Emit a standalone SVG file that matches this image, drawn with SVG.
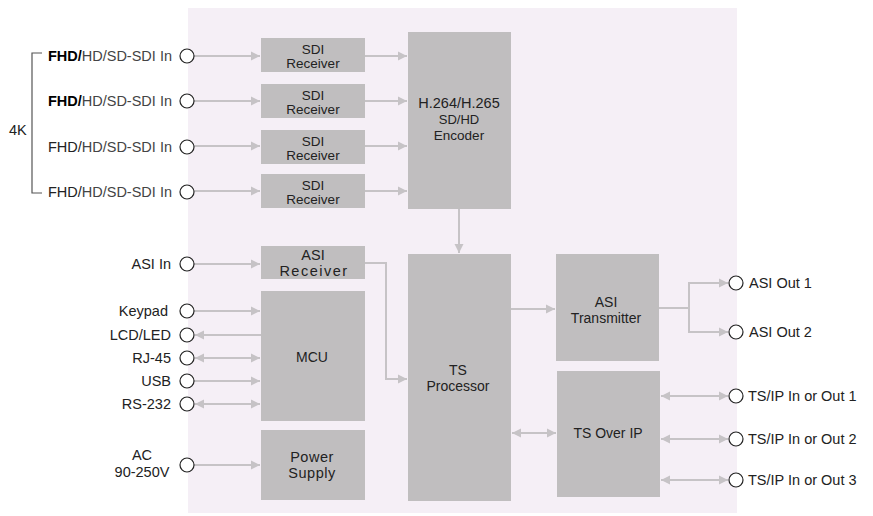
<svg xmlns="http://www.w3.org/2000/svg" width="873" height="516" viewBox="0 0 873 516">
<defs>
<marker id="ah" markerUnits="userSpaceOnUse" markerWidth="10" markerHeight="10" refX="9" refY="5" orient="auto-start-reverse" viewBox="0 0 10 10">
<path d="M0,0.5 L9,5 L0,9.5 Z" fill="#c6c3c6"/>
</marker>
<style>
.box{fill:#c0bebf}
.t{font-family:"Liberation Sans",Arial,sans-serif;font-size:14.5px;fill:#222}
.bt{font-size:14px}
.st{font-size:13.5px}
.tm{text-anchor:middle}
.te{text-anchor:end}
.ln{fill:none;stroke:#c6c3c6;stroke-width:2}
.a{marker-end:url(#ah)}
.b{marker-start:url(#ah);marker-end:url(#ah)}
.port{fill:#fff;stroke:#222;stroke-width:1.2}
.br{fill:none;stroke:#555;stroke-width:1.2}
</style>
</defs>
<rect x="188" y="8" width="549" height="505" fill="#f5eff6"/>

<g id="connectors">
<path class="ln a" d="M194,56 H260"/>
<path class="ln a" d="M194,101 H260"/>
<path class="ln a" d="M194,146 H260"/>
<path class="ln a" d="M194,191 H260"/>
<path class="ln a" d="M365,56 H407"/>
<path class="ln a" d="M365,101 H407"/>
<path class="ln a" d="M365,146 H407"/>
<path class="ln a" d="M365,191 H407"/>
<path class="ln a" d="M459,209 V253"/>
<path class="ln a" d="M194,264 H260"/>
<path class="ln a" d="M365,263 H386 V379 H407"/>
<path class="ln a" d="M194,311 H260"/>
<path class="ln a" d="M261,335 H195"/>
<path class="ln b" d="M195,358 H260"/>
<path class="ln a" d="M194,381 H260"/>
<path class="ln b" d="M195,404 H260"/>
<path class="ln a" d="M194,465 H260"/>
<path class="ln a" d="M511,309 H555"/>
<path class="ln b" d="M512,433 H556"/>
<path class="ln" d="M659,308 H689"/>
<path class="ln a" d="M689,308 V283 H728"/>
<path class="ln a" d="M689,308 V332 H728"/>
<path class="ln b" d="M661,396 H728"/>
<path class="ln b" d="M661,439 H728"/>
<path class="ln b" d="M661,480 H728"/>
</g>

<g id="bracket-4k">
<path class="br" d="M42,53 H32 V193 H42"/>
<text class="t" x="9" y="135">4K</text>
</g>

<g id="in-sdi-1"><circle class="port" cx="187" cy="56" r="7"/><text class="t te" x="172" y="61"><tspan font-weight="bold" fill="#000">FHD/</tspan><tspan fill="#444">HD/SD-SDI In</tspan></text></g>
<g id="in-sdi-2"><circle class="port" cx="187" cy="101" r="7"/><text class="t te" x="172" y="106"><tspan font-weight="bold" fill="#000">FHD/</tspan><tspan fill="#444">HD/SD-SDI In</tspan></text></g>
<g id="in-sdi-3"><circle class="port" cx="187" cy="147" r="7"/><text class="t te" x="172" y="152"><tspan fill="#222">FHD/</tspan><tspan fill="#444">HD/SD-SDI In</tspan></text></g>
<g id="in-sdi-4"><circle class="port" cx="187" cy="192" r="7"/><text class="t te" x="172" y="197"><tspan fill="#222">FHD/</tspan><tspan fill="#444">HD/SD-SDI In</tspan></text></g>

<g id="sdi-rx-1"><rect class="box" x="261" y="38" width="104" height="34"/><text class="t st tm" x="313" y="53.5">SDI<tspan x="313" dy="14.5">Receiver</tspan></text></g>
<g id="sdi-rx-2"><rect class="box" x="261" y="84" width="104" height="34"/><text class="t st tm" x="313" y="99.5">SDI<tspan x="313" dy="14.5">Receiver</tspan></text></g>
<g id="sdi-rx-3"><rect class="box" x="261" y="130" width="104" height="34"/><text class="t st tm" x="313" y="145.5">SDI<tspan x="313" dy="14.5">Receiver</tspan></text></g>
<g id="sdi-rx-4"><rect class="box" x="261" y="174" width="104" height="34"/><text class="t st tm" x="313" y="189.5">SDI<tspan x="313" dy="14.5">Receiver</tspan></text></g>

<g id="encoder"><rect class="box" x="408" y="32" width="103" height="177"/><text class="t tm" x="459" y="108">H.264/H.265<tspan x="459" dy="16" font-size="13">SD/HD</tspan><tspan x="459" dy="16" font-size="13.5">Encoder</tspan></text></g>

<g id="in-asi"><circle class="port" cx="187" cy="264" r="7"/><text class="t te" x="171" y="269">ASI In</text></g>
<g id="asi-rx"><rect class="box" x="261" y="246" width="104" height="33"/><text class="t tm" x="313" y="259.5" font-size="13">ASI<tspan x="314" dy="16.5" letter-spacing="1.5">Receiver</tspan></text></g>

<g id="keypad"><circle class="port" cx="187" cy="311" r="7"/><text class="t te" x="168" y="316">Keypad</text></g>
<g id="lcd-led"><circle class="port" cx="187" cy="335" r="7"/><text class="t te" x="171" y="340">LCD/LED</text></g>
<g id="rj45"><circle class="port" cx="187" cy="358" r="7"/><text class="t te" x="171" y="363">RJ-45</text></g>
<g id="usb"><circle class="port" cx="187" cy="381" r="7"/><text class="t te" x="171" y="386" fill="#000">USB</text></g>
<g id="rs232"><circle class="port" cx="187" cy="404" r="7"/><text class="t te" x="171" y="409">RS-232</text></g>
<g id="mcu"><rect class="box" x="261" y="291" width="104" height="130"/><text class="t bt tm" x="312" y="362">MCU</text></g>

<g id="ac"><circle class="port" cx="187" cy="465" r="7"/><text class="t tm" x="142" y="460">AC<tspan x="142" dy="17">90-250V</tspan></text></g>
<g id="power"><rect class="box" x="261" y="430" width="104" height="70"/><text class="t tm" x="312" y="462" font-size="13" letter-spacing="0.5">Power<tspan x="312" dy="16">Supply</tspan></text></g>

<g id="ts-proc"><rect class="box" x="408" y="254" width="103" height="247"/><text class="t bt tm" x="458" y="375">TS<tspan x="458" dy="16">Processor</tspan></text></g>
<g id="asi-tx"><rect class="box" x="556" y="254" width="103" height="107"/><text class="t bt tm" x="606" y="307">ASI<tspan x="606" dy="16">Transmitter</tspan></text></g>
<g id="ts-ip"><rect class="box" x="557" y="371" width="103" height="126"/><text class="t bt tm" x="608" y="438">TS Over IP</text></g>

<g id="asi-out-1"><circle class="port" cx="736" cy="283" r="7"/><text class="t" x="749" y="288">ASI Out 1</text></g>
<g id="asi-out-2"><circle class="port" cx="736" cy="332" r="7"/><text class="t" x="749" y="337">ASI Out 2</text></g>
<g id="tsip-1"><circle class="port" cx="736" cy="396" r="7"/><text class="t" x="748" y="401">TS/IP In or Out 1</text></g>
<g id="tsip-2"><circle class="port" cx="736" cy="439" r="7"/><text class="t" x="748" y="444">TS/IP In or Out 2</text></g>
<g id="tsip-3"><circle class="port" cx="736" cy="480" r="7"/><text class="t" x="748" y="485">TS/IP In or Out 3</text></g>
</svg>
